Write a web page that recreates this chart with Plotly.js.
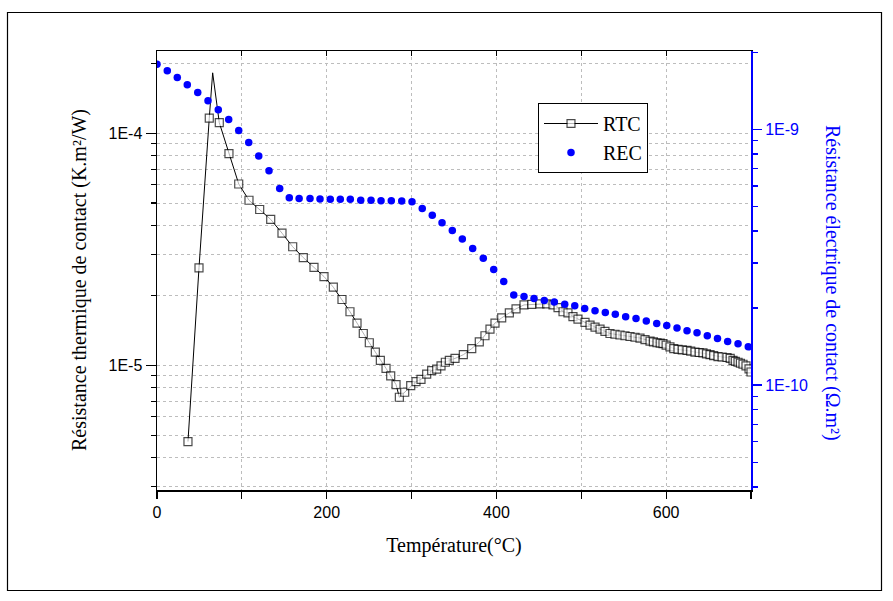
<!DOCTYPE html>
<html><head><meta charset="utf-8">
<script src="https://cdn.plot.ly/plotly-3.0.1.min.js"></script>
<style>html,body{margin:0;padding:0;background:#fff}#chart{width:893px;height:601px}</style>
</head><body><div id="chart"></div>
<script>
// ---- data ----
const rtcTemp = [36.5, 49.5, 61.6, 65.6, 73.4, 84.8, 96.3, 108.4, 121.0, 134.0,
  147.3, 159.9, 172.4, 185.0, 196.8, 207.8, 218.0, 227.4, 235.7, 243.1,
  250.2, 257.3, 263.2, 269.9, 275.4, 281.7, 285.6, 291.9, 299.0, 305.2,
  311.1, 317.8, 323.7, 329.6, 334.7, 339.8, 344.5, 351.2, 361.0, 370.9,
  379.8, 386.5, 392.4, 398.3, 406.2, 415.2, 423.1, 432.5, 441.6, 451.3,
  459.2, 466.7, 472.6, 478.5, 484.3, 490.2, 496.1, 504.4, 510.3, 516.2,
  522.1, 527.9, 533.8, 539.7, 545.6, 551.5, 557.4, 563.3, 569.2, 575.1,
  581.0, 585.0, 589.2, 593.0, 596.3, 600.0, 604.5, 609.0, 614.0, 619.0,
  624.6, 629.0, 634.0, 639.0, 643.4, 647.5, 651.7, 656.0, 661.1, 666.0,
  671.7, 675.5, 678.8, 681.5, 684.7, 687.5, 690.6, 694.1, 697.7, 700.0];
const rtcRes = [4.69e-6, 2.63e-5, 1.16e-4, 1.82e-4, 1.11e-4, 8.17e-5, 6.04e-5, 5.14e-5, 4.69e-5, 4.25e-5,
  3.71e-5, 3.24e-5, 2.91e-5, 2.64e-5, 2.41e-5, 2.17e-5, 1.92e-5, 1.70e-5, 1.52e-5, 1.37e-5,
  1.25e-5, 1.14e-5, 1.05e-5, 9.70e-6, 8.99e-6, 8.25e-6, 7.28e-6, 7.65e-6, 8.17e-6, 8.50e-6,
  8.70e-6, 9.15e-6, 9.48e-6, 9.62e-6, 9.93e-6, 1.03e-5, 1.05e-5, 1.07e-5, 1.11e-5, 1.18e-5,
  1.26e-5, 1.34e-5, 1.43e-5, 1.52e-5, 1.60e-5, 1.68e-5, 1.75e-5, 1.82e-5, 1.83e-5, 1.84e-5,
  1.84e-5, 1.82e-5, 1.77e-5, 1.70e-5, 1.68e-5, 1.62e-5, 1.58e-5, 1.53e-5, 1.49e-5, 1.46e-5,
  1.43e-5, 1.40e-5, 1.37e-5, 1.36e-5, 1.35e-5, 1.34e-5, 1.33e-5, 1.32e-5, 1.31e-5, 1.29e-5,
  1.27e-5, 1.26e-5, 1.25e-5, 1.245e-5, 1.24e-5, 1.22e-5, 1.20e-5, 1.18e-5, 1.17e-5, 1.165e-5,
  1.16e-5, 1.15e-5, 1.14e-5, 1.135e-5, 1.13e-5, 1.12e-5, 1.11e-5, 1.10e-5, 1.09e-5, 1.085e-5,
  1.08e-5, 1.07e-5, 1.05e-5, 1.04e-5, 1.03e-5, 1.02e-5, 1.01e-5, 9.93e-6, 9.64e-6, 9.35e-6];
const rtcPeakIndex = 3; // line vertex drawn without a symbol

const recTemp = [0, 12.1, 23.9, 35.7, 48.0, 60.1, 72.2, 84.5, 96.3, 108.1,
  119.9, 132.0, 144.6, 155.9, 167.5, 180.3, 192.1, 204.2, 216.0, 227.8,
  240.1, 252.2, 264.0, 276.1, 288.4, 300.5, 312.6, 324.4, 335.9, 348.0,
  359.8, 372.0, 384.5, 396.8, 408.6, 420.4, 432.5, 444.3, 456.4, 468.2,
  480.5, 492.3, 504.0, 516.2, 528.3, 540.1, 552.3, 564.5, 576.6, 588.9,
  600.7, 612.8, 624.6, 636.4, 648.5, 660.5, 672.5, 684.7, 696.8];
const recRes = [1.795e-9, 1.69e-9, 1.59e-9, 1.49e-9, 1.39e-9, 1.29e-9, 1.19e-9, 1.09e-9, 9.88e-10, 8.87e-10,
  7.86e-10, 6.88e-10, 5.86e-10, 5.39e-10, 5.36e-10, 5.36e-10, 5.33e-10, 5.32e-10, 5.32e-10, 5.32e-10,
  5.28e-10, 5.28e-10, 5.25e-10, 5.25e-10, 5.24e-10, 5.20e-10, 4.90e-10, 4.61e-10, 4.31e-10, 4.02e-10,
  3.72e-10, 3.42e-10, 3.13e-10, 2.83e-10, 2.54e-10, 2.25e-10, 2.22e-10, 2.18e-10, 2.14e-10, 2.11e-10,
  2.07e-10, 2.04e-10, 1.99e-10, 1.95e-10, 1.92e-10, 1.89e-10, 1.85e-10, 1.82e-10, 1.78e-10, 1.74e-10,
  1.71e-10, 1.67e-10, 1.63e-10, 1.60e-10, 1.56e-10, 1.52e-10, 1.48e-10, 1.45e-10, 1.41e-10];

const xTickVals = [0, 100, 200, 300, 400, 500, 600, 700];
const xTickText = ['0', '', '200', '', '400', '', '600', ''];
const leftTickVals = [1e-5, 1e-4];
const leftTickText = ['1E-5', '1E-4'];
const leftMinorVals = [3e-6, 4e-6, 5e-6, 6e-6, 7e-6, 8e-6, 9e-6, 2e-5, 3e-5, 4e-5, 5e-5, 6e-5, 7e-5, 8e-5, 9e-5, 2e-4];
const rightTickVals = [1e-10, 1e-9];
const rightTickText = ['1E-10', '1E-9'];
const rightMinorVals = [4e-11, 5e-11, 6e-11, 7e-11, 8e-11, 9e-11, 2e-10, 3e-10, 4e-10, 5e-10, 6e-10, 7e-10, 8e-10, 9e-10, 2e-9];

const labels = {
  x: 'Température(°C)',
  yLeft: 'Résistance thermique de contact (K.m²/W)',
  yRight: 'Résistance électrique de contact (Ω.m²)',
  rtc: 'RTC', rec: 'REC'
};

// ---- styles ----
const serif = 'Liberation Serif, Times New Roman, serif';
const sans = 'Liberation Sans, Arial, sans-serif';
const BLUE = '#0000ff';
const L = 157, R = 751, T = 51, B = 490, W = 893, H = 601;
const px2paperX = p => (p - L) / (R - L);
const px2paperY = p => (B - p) / (B - T);

const traces = [
  {
    x: rtcTemp, y: rtcRes, name: labels.rtc, type: 'scatter', mode: 'lines+markers',
    xaxis: 'x', yaxis: 'y',
    line: {color: '#000', width: 1},
    marker: {symbol: 'square', size: rtcTemp.map((_, i) => i === rtcPeakIndex ? 0 : 8),
             color: '#fff', line: {color: '#000', width: 1.2}}
  },
  {
    x: recTemp, y: recRes, name: labels.rec, type: 'scatter', mode: 'markers',
    xaxis: 'x2', yaxis: 'y2',
    marker: {symbol: 'circle', size: 7.5, color: BLUE}
  }
];

const layout = {
  width: W, height: H,
  margin: {l: L, r: W - R, t: T, b: H - B, pad: 0},
  paper_bgcolor: '#fff', plot_bgcolor: '#fff',
  showlegend: true,
  legend: {
    x: px2paperX(538), y: px2paperY(103), xanchor: 'left', yanchor: 'top',
    bordercolor: '#000', borderwidth: 1, bgcolor: '#fff',
    font: {family: serif, size: 20, color: '#000'},
    tracegroupgap: 0, itemwidth: 54
  },
  xaxis: {
    range: [0, 700], tickmode: 'array', tickvals: xTickVals, ticktext: xTickText,
    ticks: 'outside', ticklen: 7, tickwidth: 1.2, tickcolor: '#000',
    showline: true, linecolor: '#000', linewidth: 1.5, mirror: true,
    showgrid: true, gridcolor: '#bdbdbd', griddash: 'dot', gridwidth: 1,
    zeroline: false,
    tickfont: {family: sans, size: 16, color: '#000'},
    title: {text: labels.x, font: {family: serif, size: 20, color: '#000'}, standoff: 18}
  },
  xaxis2: {
    overlaying: 'x', matches: 'x', side: 'top', anchor: 'y2',
    range: [0, 700], tickmode: 'array', tickvals: xTickVals,
    ticks: 'inside', ticklen: 5, tickwidth: 1.2, tickcolor: '#000',
    showticklabels: false, showline: true, linecolor: '#000', linewidth: 1.5,
    showgrid: false, zeroline: false
  },
  yaxis: {
    type: 'log', range: [Math.log10(2.9e-6), Math.log10(2.26e-4)],
    tickmode: 'array', tickvals: leftTickVals, ticktext: leftTickText,
    ticks: 'outside', ticklen: 10, tickwidth: 1.2, tickcolor: '#000',
    minor: {tickmode: 'array', tickvals: leftMinorVals, ticks: 'outside', ticklen: 5,
            tickcolor: '#000', tickwidth: 1.2, showgrid: true, gridcolor: '#bdbdbd', griddash: 'dot', gridwidth: 1},
    showline: true, linecolor: '#000', linewidth: 1.5,
    showgrid: true, gridcolor: '#bdbdbd', griddash: 'dot', gridwidth: 1,
    zeroline: false,
    tickfont: {family: sans, size: 16, color: '#000'}
  },
  yaxis2: {
    type: 'log', overlaying: 'y', side: 'right', anchor: 'x2',
    range: [Math.log10(3.89e-11), Math.log10(2.02e-9)],
    tickmode: 'array', tickvals: rightTickVals, ticktext: rightTickText,
    ticks: 'outside', ticklen: 9, tickwidth: 1.2, tickcolor: BLUE,
    minor: {tickmode: 'array', tickvals: rightMinorVals, ticks: 'outside', ticklen: 5,
            tickcolor: BLUE, tickwidth: 1.2, showgrid: false},
    showline: true, linecolor: BLUE, linewidth: 2,
    showgrid: false, zeroline: false,
    tickfont: {family: sans, size: 16, color: BLUE}
  },
  annotations: [
    {xref: 'paper', yref: 'paper', x: px2paperX(79), y: px2paperY(280), showarrow: false,
     xanchor: 'center', yanchor: 'middle', textangle: -90, text: labels.yLeft,
     font: {family: serif, size: 20, color: '#000'}},
    {xref: 'paper', yref: 'paper', x: px2paperX(833), y: px2paperY(283), showarrow: false,
     xanchor: 'center', yanchor: 'middle', textangle: 90, text: labels.yRight,
     font: {family: serif, size: 20, color: BLUE}}
  ],
  shapes: [
    {type: 'rect', xref: 'paper', yref: 'paper', layer: 'below',
     x0: px2paperX(7.5), x1: px2paperX(881.5), y0: px2paperY(590.5), y1: px2paperY(12.5),
     line: {color: '#000', width: 1.2}, fillcolor: 'rgba(0,0,0,0)'}
  ]
};

Plotly.newPlot('chart', traces, layout, {displayModeBar: false, staticPlot: true});
</script>
</body></html>
